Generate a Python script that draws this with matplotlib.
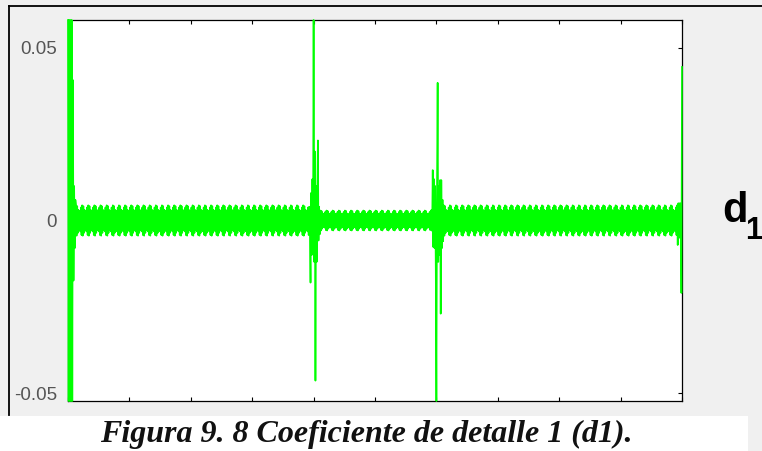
import numpy as np
import matplotlib
matplotlib.use("Agg")
import matplotlib.pyplot as plt
from matplotlib.patches import Rectangle
from matplotlib.lines import Line2D

W, H = 762, 451

# sample axis and ticks
n_samples = 1001
x_ticks = list(range(0, 1001, 100))
y_ticks = [-0.05, 0.0, 0.05]
y_tick_labels = ['-0.05', '0', '0.05']
y_limits = (-0.0523, 0.0581)

# steady-state ripple between transients: sample spans and envelope amplitude
ripple_spans = [(13, 393), (411, 592), (612, 993)]
ripple_amp = [0.0044, 0.0029, 0.0044]
# one ripple period, relative to the envelope amplitude
ripple_cycle = [1.0, -1.0, 0.95, -0.82, 0.70, -0.64, 0.64, -0.72, 0.86, -0.96]

# transients (sample index -> coefficient)
start_idx = list(range(0, 13))
start_val = [0.0581, -0.0523, 0.0581, -0.0523, 0.0581, -0.0523, 0.0581,
             -0.0523, 0.0407, -0.0174, 0.010, -0.008, 0.006]

fault1_idx = list(range(393, 411))
fault1_val = [0.004, -0.004, -0.018, 0.008, -0.010, 0.012, -0.009, 0.0581,
              -0.012, 0.020, -0.0464, 0.010, -0.012, 0.008, 0.0232, -0.0058,
              0.004, -0.004]

fault2_idx = list(range(592, 612))
fault2_val = [0.003, -0.003, 0.0146, -0.0077, 0.012, -0.008, 0.010, -0.015,
              -0.0523, 0.010, 0.0399, -0.012, 0.010, -0.010, 0.0117, -0.027,
              0.0117, -0.008, 0.006, -0.006]

end_idx = list(range(993, 1001))
end_val = [-0.0071, 0.005, -0.005, 0.005, -0.005, 0.005, -0.021, 0.0445]

# assemble the detail coefficients
x = np.arange(n_samples)
d1 = np.zeros(n_samples)
for (a, b), amp in zip(ripple_spans, ripple_amp):
    idx = np.arange(a, b)
    d1[a:b] = amp * np.asarray(ripple_cycle)[(idx - a) % len(ripple_cycle)]
for idx, val in [(start_idx, start_val), (fault1_idx, fault1_val),
                 (fault2_idx, fault2_val), (end_idx, end_val)]:
    d1[idx] = val


def fx(px):
    return px / W


def fy(py):
    return 1 - py / H


fig = plt.figure(figsize=(W / 100, H / 100), dpi=100, facecolor='#f0f0f0')

# caption strip and window frame
fig.patches.append(Rectangle((0, 0), fx(748), fy(416), transform=fig.transFigure,
                             facecolor='white', edgecolor='none', zorder=0))
fig.lines.append(Line2D([fx(9), 1], [fy(6), fy(6)], transform=fig.transFigure,
                        color='black', lw=1.3))
fig.lines.append(Line2D([fx(9), fx(9)], [fy(6), fy(415)], transform=fig.transFigure,
                        color='black', lw=1.3))

ax = fig.add_axes([fx(68), fy(401), fx(682) - fx(68), fy(20) - fy(401)])
ax.set_facecolor('white')
ax.plot(x, d1, color='#00ff00', lw=1.2, clip_on=False, zorder=3)

ax.set_xlim(0, 1000)
ax.set_ylim(*y_limits)
ax.set_xticks(x_ticks)
ax.set_xticklabels([])
ax.set_yticks(y_ticks)
ax.set_yticklabels(y_tick_labels)
ax.tick_params(direction='in', length=3, width=0.8, top=True, right=True,
               labelsize=13.5, labelcolor='#555555', pad=8)
for lab in ax.get_yticklabels():
    lab.set_fontfamily('Liberation Sans')
for s in ax.spines.values():
    s.set_linewidth(0.9)
    s.set_color('black')

# level label on the right
fig.text(fx(722), fy(222), 'd', fontsize=30, fontweight='bold',
         family='Liberation Sans', va='baseline', ha='left', color='black')
fig.text(fx(745), fy(239), '1', fontsize=22, fontweight='bold',
         family='Liberation Sans', va='baseline', ha='left', color='black')

# caption
fig.text(fx(100), fy(442), 'Figura 9. 8 Coeficiente de detalle 1 (d1).',
         fontsize=23, fontweight='bold', fontstyle='italic',
         family='Liberation Serif', va='baseline', ha='left', color='#111111')

fig.savefig('out.png', dpi=100, facecolor=fig.get_facecolor())
